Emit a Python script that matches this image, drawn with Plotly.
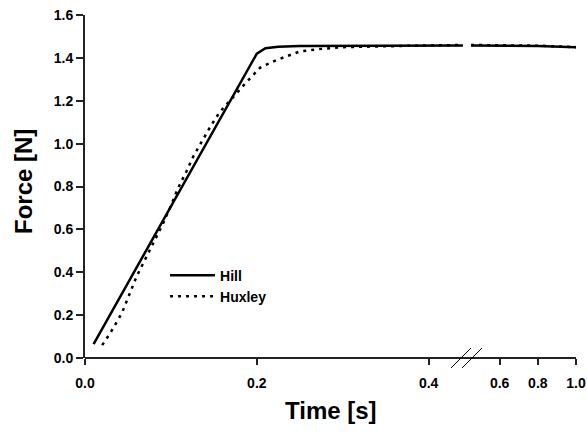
import plotly.graph_objects as go

# ---- data ----
hill_t = [0.01, 0.2, 0.21, 0.225, 0.25, 0.3, 0.35, 0.4, 0.44, 0.45, 0.6, 0.8, 1.0]
hill_f = [0.065, 1.42, 1.445, 1.452, 1.455, 1.455, 1.457, 1.458, 1.458, 1.458, 1.457, 1.455, 1.45]

huxley_t = [0.02, 0.03, 0.043, 0.05, 0.06, 0.07, 0.08, 0.09, 0.1, 0.108, 0.118, 0.126,
            0.136, 0.146, 0.157, 0.172, 0.188, 0.204, 0.223, 0.25, 0.27, 0.3, 0.35,
            0.4, 0.44, 0.45, 0.6, 0.8, 1.0]
huxley_f = [0.06, 0.12, 0.21, 0.28, 0.38, 0.46, 0.54, 0.62, 0.71, 0.79, 0.87, 0.94,
            1.01, 1.08, 1.148, 1.217, 1.287, 1.355, 1.39, 1.43, 1.44, 1.45, 1.455,
            1.458, 1.46, 1.46, 1.46, 1.457, 1.45]

x1_ticks = [0.0, 0.2, 0.4]
x1_labels = ["0.0", "0.2", "0.4"]
x2_ticks = [0.6, 0.8, 1.0]
x2_labels = ["0.6", "0.8", "1.0"]
y_ticks = [0.0, 0.2, 0.4, 0.6, 0.8, 1.0, 1.2, 1.4, 1.6]
y_labels = ["0.0", "0.2", "0.4", "0.6", "0.8", "1.0", "1.2", "1.4", "1.6"]

BREAK_LO, BREAK_HI = 0.44, 0.45

FONT = "Arial, Liberation Sans, sans-serif"


def bold(labels):
    return ["<b>%s</b>" % s for s in labels]


def split(t, f):
    a = [(x, y) for x, y in zip(t, f) if x <= BREAK_LO]
    b = [(x, y) for x, y in zip(t, f) if x >= BREAK_HI]
    return ([p[0] for p in a], [p[1] for p in a]), ([p[0] for p in b], [p[1] for p in b])


fig = go.Figure()

hill_style = dict(color="black", width=2.5)
hux_style = dict(color="black", width=2.5, dash="3px,5px")

(h1, h2) = split(hill_t, hill_f)
(x1, x2) = split(huxley_t, huxley_f)

fig.add_trace(go.Scatter(x=h1[0], y=h1[1], mode="lines", name="<b>Hill</b>", line=hill_style,
                         xaxis="x", yaxis="y"))
fig.add_trace(go.Scatter(x=h2[0], y=h2[1], mode="lines", name="Hill", line=hill_style,
                         showlegend=False, xaxis="x2", yaxis="y"))
fig.add_trace(go.Scatter(x=x1[0], y=x1[1], mode="lines", name="<b>Huxley</b>", line=hux_style,
                         xaxis="x", yaxis="y"))
fig.add_trace(go.Scatter(x=x2[0], y=x2[1], mode="lines", name="Huxley", line=hux_style,
                         showlegend=False, xaxis="x2", yaxis="y"))

tickfont = dict(family=FONT, size=14, color="black")

common_x = dict(showgrid=False, zeroline=False, showline=False, ticks="outside",
                ticklen=6, tickwidth=1.5, tickcolor="#222", tickfont=tickfont,
                ticklabelstandoff=6, automargin=False)

fig.update_layout(
    width=587, height=433,
    margin=dict(l=85, r=11, t=15, b=75),
    paper_bgcolor="white", plot_bgcolor="white",
    showlegend=True,
    legend=dict(x=0.163, y=0.287, xanchor="left", yanchor="top",
                bgcolor="rgba(0,0,0,0)", itemwidth=45, tracegroupgap=0,
                font=dict(family=FONT, size=14, color="black")),
    xaxis=dict(domain=[0, 0.7699], range=[0, BREAK_LO], tickvals=x1_ticks,
               ticktext=bold(x1_labels), **common_x),
    xaxis2=dict(domain=[0.7862, 1], range=[BREAK_HI, 1.0], tickvals=x2_ticks,
                ticktext=bold(x2_labels), anchor="y", **common_x),
    yaxis=dict(range=[0, 1.6], tickvals=y_ticks, ticktext=bold(y_labels), showgrid=False,
               zeroline=False, showline=True, linecolor="#222", linewidth=2,
               ticks="outside", ticklen=7, tickwidth=1.5, tickcolor="#222",
               tickfont=tickfont, automargin=False),
)

# continuous x axis line and break marks
fig.add_shape(type="line", xref="paper", yref="paper", x0=0, x1=1, y0=0, y1=0,
              line=dict(color="#222", width=2))
for dx in (0.0, 11.0):
    x0p = (451 + dx - 85) / 491
    x1p = (471 + dx - 85) / 491
    fig.add_shape(type="line", xref="paper", yref="paper",
                  x0=x0p, x1=x1p, y0=-10 / 343, y1=10 / 343,
                  line=dict(color="black", width=1))

fig.add_annotation(text="<b>Time [s]</b>", xref="paper", yref="paper", x=0.5, y=-52 / 343,
                   xanchor="center", yanchor="middle", showarrow=False,
                   font=dict(family=FONT, size=24, color="black"))
fig.add_annotation(text="<b>Force [N]</b>", xref="paper", yref="paper", x=(23 - 85) / 491,
                   y=(358 - 182) / 343, textangle=-90,
                   xanchor="center", yanchor="middle", showarrow=False,
                   font=dict(family=FONT, size=24, color="black"))

fig.write_html("out.html", config={"displayModeBar": False},
               post_script="document.body.style.margin='0px';")
